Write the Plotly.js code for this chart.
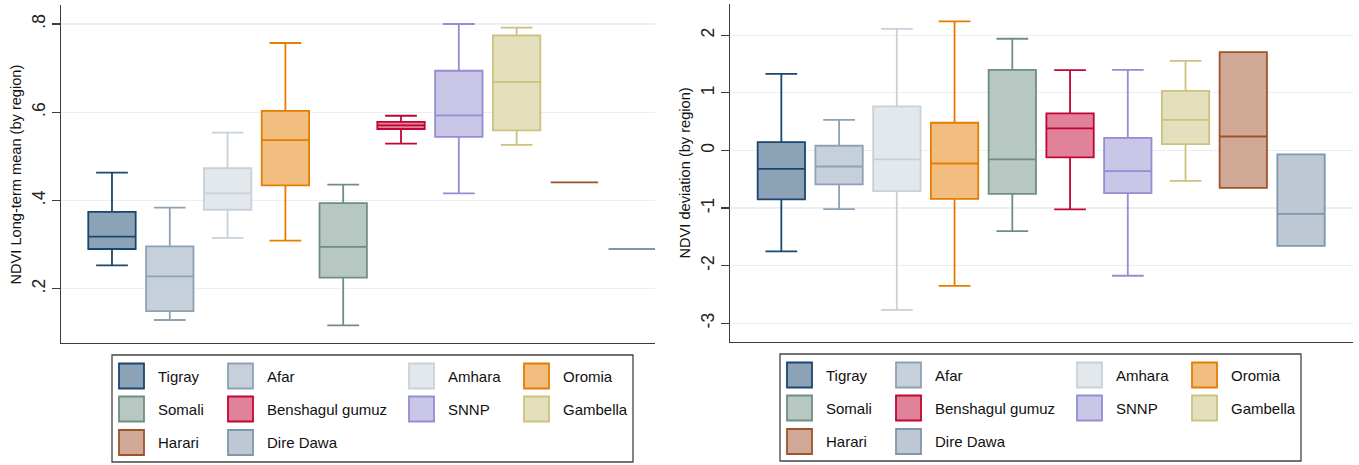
<!DOCTYPE html>
<html>
<head>
<meta charset="utf-8">
<script src="https://cdn.plot.ly/plotly-3.0.1.min.js"></script>
<style>html,body{margin:0;padding:0;background:#fff;}#chart{width:1359px;height:465px;}</style>
</head>
<body>
<div id="chart"></div>
<script>
const regions = ['Tigray','Afar','Amhara','Oromia','Somali','Benshagul gumuz','SNNP','Gambella','Harari','Dire Dawa'];

// Left panel: NDVI long-term mean (by region)
const meanLower  = [0.253,0.129,0.315,0.309,0.117,0.529,0.416,0.526,0.441,0.290];
const meanQ1     = [0.290,0.149,0.379,0.434,0.225,0.562,0.544,0.559,0.441,0.290];
const meanMedian = [0.318,0.228,0.416,0.537,0.295,0.570,0.593,0.669,0.441,0.290];
const meanQ3     = [0.374,0.296,0.473,0.603,0.394,0.578,0.694,0.774,0.441,0.290];
const meanUpper  = [0.463,0.384,0.554,0.757,0.436,0.592,0.800,0.792,0.441,0.290];

// Right panel: NDVI deviation (by region)
const devLower  = [-1.75,-1.017,-2.766,-2.35,-1.40,-1.024,-2.175,-0.526,-0.648,-1.655];
const devQ1     = [-0.85,-0.59,-0.705,-0.839,-0.752,-0.12,-0.74,0.111,-0.648,-1.655];
const devMedian = [-0.318,-0.278,-0.156,-0.226,-0.156,0.382,-0.358,0.533,0.243,-1.099];
const devQ3     = [0.146,0.082,0.764,0.481,1.40,0.643,0.22,1.036,1.708,-0.069];
const devUpper  = [1.33,0.533,2.11,2.24,1.94,1.396,1.40,1.557,1.708,-0.069];

const meanTickVals = [0.2,0.4,0.6,0.8];
const meanTickText = ['.2','.4','.6','.8'];
const devTickVals = [-3,-2,-1,0,1,2];
const devTickText = ['-3','-2','-1','0','1','2'];

const lineColors = ['#1a476f','#8ea1b5','#c8d1da','#e37e00','#6e8e84','#c10534','#938dd2','#cac27e','#a0522d','#7f96ac'];
const fillColors = ['#8ca3b7','#c6d0da','#e3e8ec','#f1be7f','#b7c7c1','#e08299','#c9c6e8','#e4e0be','#cfa896','#bdc8d4'];

const W = 1359, H = 465;
const px = v => v / W;
const py = v => 1 - v / H;

const traces = [];
function addPanel(lower,q1,med,q3,upper,xa,ya){
  regions.forEach((r,i)=>{
    traces.push({
      type:'box', name:r, x:[r],
      q1:[q1[i]], median:[med[i]], q3:[q3[i]],
      lowerfence:[lower[i]], upperfence:[upper[i]],
      boxpoints:false, width:0.82, whiskerwidth:0.67,
      fillcolor:fillColors[i],
      line:{color:lineColors[i], width:1.8},
      xaxis:xa, yaxis:ya, showlegend:false, hoverinfo:'skip'
    });
  });
}
addPanel(meanLower,meanQ1,meanMedian,meanQ3,meanUpper,'x','y');
addPanel(devLower,devQ1,devMedian,devQ3,devUpper,'x2','y2');

const font = 'Liberation Sans, Arial, sans-serif';
const axisX = (dom,range)=>({
  domain:dom, type:'category', categoryarray:regions, range:range,
  showticklabels:false, ticks:'', showgrid:false, zeroline:false,
  showline:true, linecolor:'#3c3c3c', linewidth:1.3, fixedrange:true
});
const axisY = (dom,range,tv,tt,anchor)=>({
  domain:dom, range:range, anchor:anchor,
  tickmode:'array', tickvals:tv, ticktext:tt, tickangle:-90,
  ticks:'outside', ticklen:8, tickwidth:1.2, tickcolor:'#3c3c3c',
  tickfont:{family:font, size:17.5, color:'#222'},
  showgrid:true, gridcolor:'#eaf0f2', gridwidth:1.2, zeroline:false,
  showline:true, linecolor:'#3c3c3c', linewidth:1.3, fixedrange:true
});

const shapes = [];
const annotations = [];

// Legends (drawn as shapes + text)
const colSw = [7,116,297,412];
const colTx = [44,153,334,449];
const rowY = [21,54,87.5];
function addLegend(left, top){
  shapes.push({type:'rect', xref:'paper', yref:'paper',
    x0:px(left), x1:px(left+521), y0:py(top), y1:py(top+107),
    line:{color:'#444', width:1.3}, fillcolor:'rgba(0,0,0,0)'});
  regions.forEach((r,i)=>{
    const row = Math.floor(i/4), col = i%4;
    const cy = top + rowY[row];
    shapes.push({type:'rect', xref:'paper', yref:'paper',
      x0:px(left+colSw[col]), x1:px(left+colSw[col]+25),
      y0:py(cy-12.5), y1:py(cy+12.5),
      line:{color:lineColors[i], width:1.8}, fillcolor:fillColors[i]});
    annotations.push({xref:'paper', yref:'paper', x:px(left+colTx[col]), y:py(cy),
      xanchor:'left', yanchor:'middle', text:r, showarrow:false,
      font:{family:font, size:15, color:'#111'}});
  });
}
addLegend(112, 355);
addLegend(780, 354);

// Y-axis titles
annotations.push({xref:'paper', yref:'paper', x:px(15.5), y:py(175), textangle:-90,
  xanchor:'center', yanchor:'middle', showarrow:false,
  text:'NDVI Long-term mean (by region)', font:{family:font, size:14.6, color:'#111'}});
annotations.push({xref:'paper', yref:'paper', x:px(684.5), y:py(173), textangle:-90,
  xanchor:'center', yanchor:'middle', showarrow:false,
  text:'NDVI deviation (by region)', font:{family:font, size:14.6, color:'#111'}});

const layout = {
  width:W, height:H,
  margin:{l:0,r:0,t:0,b:0},
  paper_bgcolor:'#fff', plot_bgcolor:'#fff',
  showlegend:false, boxmode:'overlay',
  xaxis: axisX([px(61),px(655)],[-0.882,9.394]),
  yaxis: axisY([py(343),py(5)],[0.0769,0.8431],meanTickVals,meanTickText,'x'),
  xaxis2: axisX([px(730),px(1353)],[-0.889,9.90]),
  yaxis2: axisY([py(342),py(4)],[-3.325,2.543],devTickVals,devTickText,'x2'),
  shapes:shapes, annotations:annotations,
  font:{family:font}
};
layout.xaxis.anchor='y';
layout.xaxis2.anchor='y2';

Plotly.newPlot('chart', traces, layout, {displayModeBar:false, staticPlot:true});
</script>
</body>
</html>
